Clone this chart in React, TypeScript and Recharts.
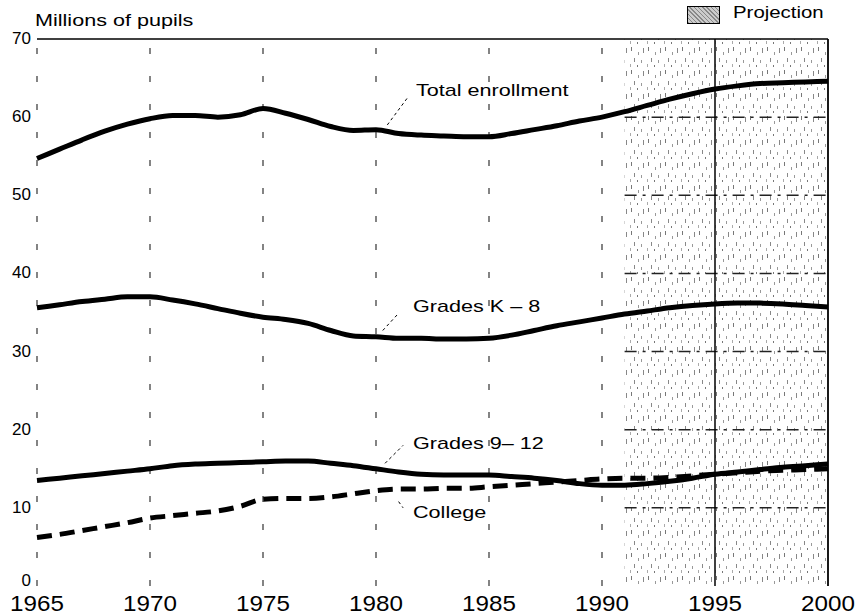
import React from 'react'
import {
  LineChart,
  Line,
  XAxis,
  YAxis,
  ReferenceArea,
  ReferenceLine,
} from 'recharts'

const years = [
  1965, 1966, 1967, 1968, 1969, 1970, 1971, 1972, 1973, 1974,
  1975, 1976, 1977, 1978, 1979, 1980, 1981, 1982, 1983, 1984,
  1985, 1986, 1987, 1988, 1989, 1990, 1991, 1992, 1993, 1994,
  1995, 1996, 1997, 1998, 1999, 2000,
]

// millions of pupils
const totalEnrollment = [
  54.7, 55.9, 57.1, 58.2, 59.1, 59.8, 60.2, 60.2, 60.0, 60.3,
  61.1, 60.5, 59.7, 58.8, 58.3, 58.4, 57.9, 57.7, 57.6, 57.5,
  57.5, 57.9, 58.4, 58.9, 59.5, 60.0, 60.7, 61.5, 62.3, 63.0,
  63.6, 64.0, 64.3, 64.4, 64.5, 64.6,
]
const gradesK8 = [
  35.6, 36.0, 36.4, 36.7, 37.0, 37.0, 36.6, 36.1, 35.5, 34.9,
  34.4, 34.1, 33.6, 32.7, 32.0, 31.9, 31.7, 31.7, 31.6, 31.6,
  31.7, 32.1, 32.7, 33.3, 33.8, 34.3, 34.8, 35.2, 35.6, 35.9,
  36.1, 36.2, 36.2, 36.1, 35.9, 35.7,
]
const grades912 = [
  13.5, 13.8, 14.1, 14.4, 14.7, 15.0, 15.4, 15.6, 15.7, 15.8,
  15.9, 16.0, 16.0, 15.7, 15.4, 15.0, 14.6, 14.3, 14.2, 14.2,
  14.2, 14.0, 13.8, 13.5, 13.1, 12.9, 12.9, 13.1, 13.4, 13.8,
  14.3, 14.6, 14.9, 15.2, 15.4, 15.6,
]
const college = [
  6.2, 6.6, 7.1, 7.6, 8.1, 8.7, 9.0, 9.3, 9.6, 10.2,
  11.1, 11.2, 11.2, 11.4, 11.8, 12.2, 12.4, 12.4, 12.5, 12.5,
  12.7, 12.9, 13.1, 13.3, 13.5, 13.7, 13.8, 13.8, 13.9, 14.1,
  14.3, 14.5, 14.7, 14.8, 14.9, 15.0,
]

const xTicks = [1965, 1970, 1975, 1980, 1985, 1990, 1995, 2000]
const yTicks = [0, 10, 20, 30, 40, 50, 60, 70]
const gridYears = [1965, 1970, 1975, 1980, 1985, 1990]
const projGridValues = [10, 20, 30, 40, 50, 60]
const projectionStart = 1991

const rows = years.map((year, i) => ({
  year,
  total: totalEnrollment[i],
  k8: gradesK8[i],
  g912: grades912[i],
  college: college[i],
}))

const FONT = '"Liberation Sans", Arial, Helvetica, sans-serif'

const leaders = [
  [{ x: 1980.5, y: 59.0 }, { x: 1981.4, y: 62.5 }],
  [{ x: 1980.3, y: 32.7 }, { x: 1981.0, y: 34.9 }],
  [{ x: 1980.4, y: 15.7 }, { x: 1981.2, y: 18.0 }],
  [{ x: 1981.0, y: 10.8 }, { x: 1981.2, y: 10.0 }],
]

const labelStyle: React.CSSProperties = {
  position: 'absolute',
  fontFamily: FONT,
  fontSize: 17,
  color: '#000',
  whiteSpace: 'nowrap',
  lineHeight: '20px',
  transform: 'scaleX(1.27)',
  transformOrigin: 'left center',
}

function YearTick(props: any) {
  const { x, y, payload } = props
  return (
    <text
      transform={`translate(${x},${y}) scale(1.1,1)`}
      textAnchor="middle"
      dy="0.71em"
      fontSize={22}
      fill="#000"
      fontFamily={FONT}
    >
      {payload.value}
    </text>
  )
}

function ValueTick(props: any) {
  const { x, y, payload } = props
  // the zero label sits a little higher, clear of the year labels
  const shift = payload.value === 0 ? -6 : -1
  return (
    <text
      x={x}
      y={y + shift}
      textAnchor="end"
      dy="0.355em"
      fontSize={17}
      fill="#000"
      fontFamily={FONT}
    >
      {payload.value}
    </text>
  )
}

export default function App() {
  return (
    <div style={{ position: 'absolute', left: 0, top: 0, width: 855, height: 616, background: '#fff' }}>
      <LineChart
        width={855}
        height={616}
        data={rows}
        margin={{ top: 39, right: 27, left: 0, bottom: 0 }}
        style={{ fontFamily: FONT }}
      >
        <defs>
          <pattern id="stipple" width="17" height="23" patternUnits="userSpaceOnUse">
            <rect width="17" height="23" fill="#fff" />
            <rect x="2" y="1" width="1" height="4" fill="#777" />
            <rect x="9" y="6" width="1" height="3" fill="#999" />
            <rect x="14" y="2" width="1" height="5" fill="#888" />
            <rect x="5" y="12" width="1" height="4" fill="#888" />
            <rect x="12" y="14" width="1" height="3" fill="#999" />
            <rect x="1" y="18" width="1" height="3" fill="#aaa" />
            <rect x="8" y="19" width="1" height="2" fill="#777" />
          </pattern>
        </defs>
        <ReferenceArea
          x1={projectionStart}
          x2={2000}
          y1={0}
          y2={70}
          fill="url(#stipple)"
          fillOpacity={1}
          stroke="none"
        />
        {gridYears.map((y) => (
          <ReferenceLine key={y} x={y} stroke="#333" strokeWidth={1.2} strokeDasharray="6 22" />
        ))}
        {projGridValues.map((v) => (
          <ReferenceLine
            key={v}
            segment={[{ x: projectionStart, y: v }, { x: 2000, y: v }]}
            stroke="#222"
            strokeWidth={1.5}
            strokeDasharray="12 6 3 6"
          />
        ))}
        <ReferenceLine y={70} stroke="#000" strokeWidth={1.3} />
        <ReferenceLine x={1995} stroke="#000" strokeWidth={1.5} />
        <ReferenceLine x={2000} stroke="#000" strokeWidth={1.8} />
        {leaders.map((seg, i) => (
          <ReferenceLine key={i} segment={seg} stroke="#000" strokeWidth={1} strokeDasharray="3 3" />
        ))}
        <XAxis
          type="number"
          dataKey="year"
          domain={[1965, 2000]}
          ticks={xTicks}
          axisLine={false}
          tickLine={false}
          height={30}
          tickSize={9}
          tickMargin={0}
          interval={0}
          tick={<YearTick />}
        />
        <YAxis
          type="number"
          domain={[0, 70]}
          ticks={yTicks}
          axisLine={false}
          tickLine={false}
          width={37}
          tickSize={6}
          tickMargin={0}
          interval={0}
          tick={<ValueTick />}
        />
        <Line type="monotone" dataKey="total" stroke="#000" strokeWidth={5} dot={false} isAnimationActive={false} />
        <Line type="monotone" dataKey="k8" stroke="#000" strokeWidth={5} dot={false} isAnimationActive={false} />
        <Line type="monotone" dataKey="g912" stroke="#000" strokeWidth={5} dot={false} isAnimationActive={false} />
        <Line
          type="monotone"
          dataKey="college"
          stroke="#000"
          strokeWidth={5}
          strokeDasharray="15 8"
          dot={false}
          isAnimationActive={false}
        />
      </LineChart>
      <div style={{ ...labelStyle, left: 35, top: 11 }}>Millions of pupils</div>
      <div
        style={{
          position: 'absolute',
          left: 687,
          top: 6,
          width: 31,
          height: 16,
          border: '1px solid #000',
          background: 'repeating-linear-gradient(45deg, #888 0 1px, #ccc 1px 3px)',
        }}
      />
      <div style={{ ...labelStyle, left: 733, top: 3, transform: 'scaleX(1.2)' }}>Projection</div>
      <div style={{ ...labelStyle, left: 416, top: 81 }}>Total enrollment</div>
      <div style={{ ...labelStyle, left: 413, top: 297 }}>Grades K – 8</div>
      <div style={{ ...labelStyle, left: 413, top: 434 }}>Grades 9– 12</div>
      <div style={{ ...labelStyle, left: 413, top: 503 }}>College</div>
    </div>
  )
}
